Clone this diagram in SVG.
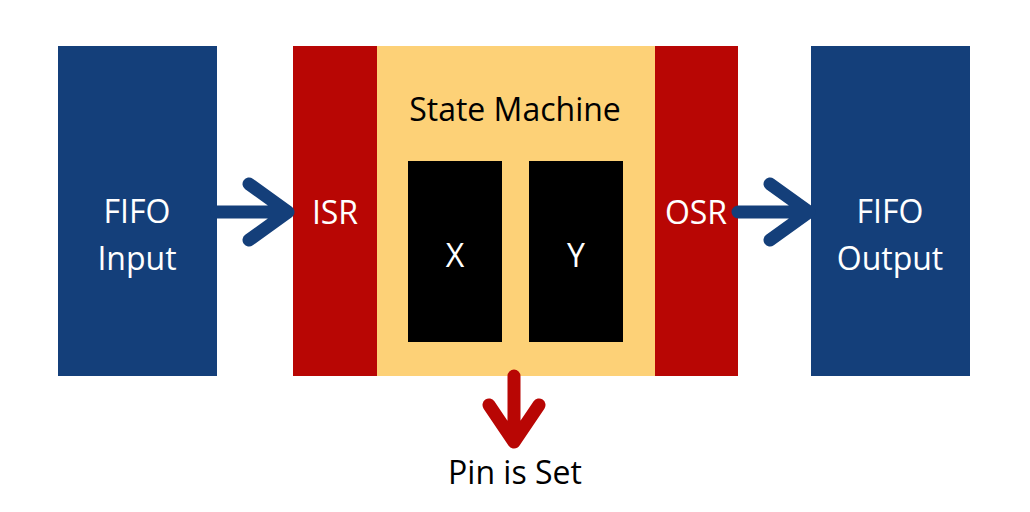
<svg xmlns="http://www.w3.org/2000/svg" width="1030" height="512" viewBox="0 0 1030 512">
<style>
.t{font-family:"Open Sans","DejaVu Sans",sans-serif;font-size:32px;text-anchor:middle}
.w{fill:#fff}
.blue{fill:#143f7a}
.red{fill:#b80604}
.ab{fill:none;stroke:#143f7a;stroke-width:13;stroke-linecap:round;stroke-linejoin:round}
.ar{fill:none;stroke:#b80604;stroke-width:13;stroke-linecap:round;stroke-linejoin:round}
</style>
<rect width="1030" height="512" fill="#fff"/>
<g id="fifo-input"><rect class="blue" x="58" y="46" width="159" height="330"/><text class="t w" x="137" y="223">FIFO</text><text class="t w" x="137" y="270">Input</text></g>
<g id="state-machine"><rect fill="#fdd177" x="377" y="46" width="278" height="330"/><text class="t" x="515" y="121">State Machine</text></g>
<g id="isr"><rect class="red" x="293" y="46" width="84" height="330"/><text class="t w" x="335" y="224">ISR</text></g>
<g id="osr"><rect class="red" x="655" y="46" width="83" height="330"/><text class="t w" x="696" y="224">OSR</text></g>
<g id="x"><rect x="408" y="161" width="94" height="181" fill="#000"/><text class="t w" x="455" y="267">X</text></g>
<g id="y"><rect x="529" y="161" width="94" height="181" fill="#000"/><text class="t w" x="576" y="267">Y</text></g>
<g id="fifo-output"><rect class="blue" x="811" y="46" width="159" height="330"/><text class="t w" x="890" y="223">FIFO</text><text class="t w" x="890" y="270">Output</text></g>
<g id="connectors">
<path class="ab" d="M217 212H286M249 184L288 212L249 240"/>
<path class="ab" d="M738 212H806M770 184L809 212L770 240"/>
<path class="ar" d="M514 376V436M489 405L514 442L539 405"/>
</g>
<text class="t" x="515" y="484">Pin is Set</text>
</svg>
